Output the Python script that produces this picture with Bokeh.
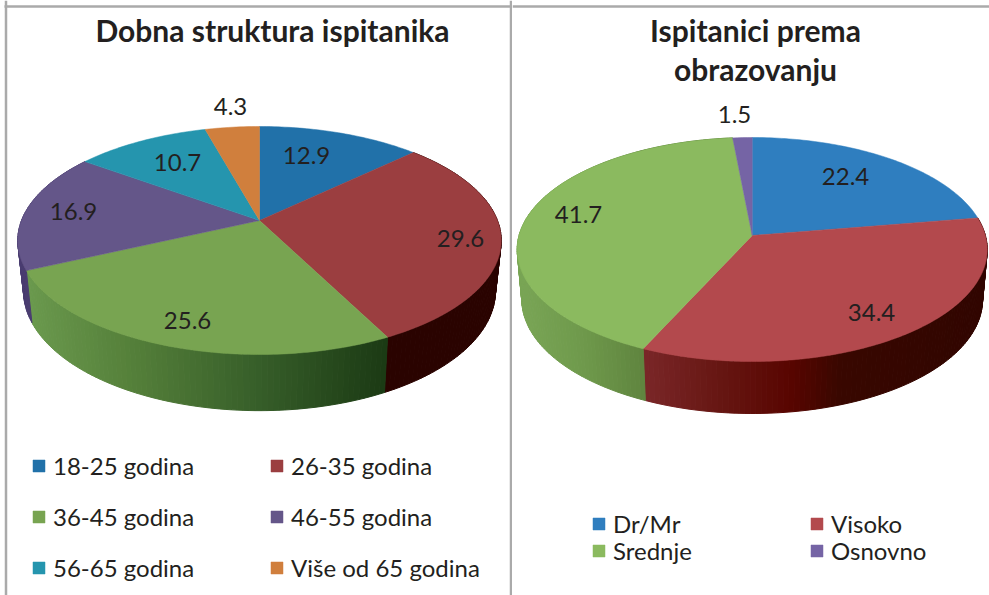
import numpy as np
from bokeh.plotting import figure
from bokeh.layouts import row
from bokeh.models import Range1d, Legend, LegendItem, Span, ColumnDataSource
from bokeh.core.properties import value
from bokeh.embed import file_html
from bokeh.resources import INLINE

# ---- data ----
age_title = ["Dobna struktura ispitanika"]
age_labels = ["18-25 godina", "26-35 godina", "36-45 godina", "46-55 godina", "56-65 godina", "Više od 65 godina"]
age_values = [12.9, 29.6, 25.6, 16.9, 10.7, 4.3]
edu_title = ["Ispitanici prema", "obrazovanju"]
edu_labels = ["Dr/Mr", "Visoko", "Srednje", "Osnovno"]
edu_values = [22.4, 34.4, 41.7, 1.5]

# ---- style ----
age_colors = ["#2171a9", "#9b3e40", "#78a451", "#645689", "#2595ae", "#d07f3d"]
edu_colors = ["#2f7ebf", "#b3494d", "#8bba5f", "#7564a5"]
# wall shading: (x pixel, colour) stops, per slice
age_wall = {1: [(380, "#2a0300"), (500, "#2a0300")],
            2: [(25, "#6b9a4e"), (130, "#55803a"), (250, "#38602a"), (385, "#1b3a14")],
            3: [(15, "#4a3d70"), (40, "#4a3d70")]}
edu_wall = {1: [(640, "#7b2729"), (720, "#661612"), (790, "#580500"), (840, "#380700"), (990, "#300500")],
            2: [(515, "#7aa656"), (580, "#6f9a4c"), (645, "#5f843e")]}
age_geom = dict(cx=259, cy=220, R=238, k=0.1754, h=110.5, xs=0.976, cyl=269.6, hl=115.9)
edu_geom = dict(cx=751.7, cy=235, R=233.2, k=0.125, h=110.25, xs=0.98, cyl=285, hl=112)
age_label_xy = [(306, 155), (460, 238), (187, 320), (73, 211), (177, 162), (230, 106)]
edu_label_xy = [(845, 176), (871, 312), (578, 214), (734, 114)]
FONT = "Lato"
INK = "#231f20"
BORDER = "#aaaaaa"
DIVIDE = 512
TOP_RULE = 6


def hex2rgb(c):
    return np.array([int(c[i:i + 2], 16) for i in (1, 3, 5)], float)


def shade(stops, x):
    xs = [s[0] for s in stops]
    rgb = [hex2rgb(s[1]) for s in stops]
    v = [np.interp(x, xs, [c[i] for c in rgb]) for i in range(3)]
    return "#%02x%02x%02x" % tuple(int(round(a)) for a in v)


def top_pt(g, th):
    u, v = np.sin(th), np.cos(th)
    s = 1 / (1 + g["k"] * v)
    return g["cx"] + g["R"] * u * s, g["cy"] - g["h"] * v * s


def low_pt(g, th):
    u, v = np.sin(th), np.cos(th)
    s = 1 / (1 + g["k"] * v)
    return g["cx"] + g["xs"] * g["R"] * u * s, g["cyl"] - g["hl"] * v * s


def draw_pie(p, vals, names, colors, wall, g, label_xy, titles, title_xy, fs_title, legends):
    edges = np.cumsum([0] + vals) / sum(vals) * 2 * np.pi
    # walls
    for i, stops in wall.items():
        a0, a1 = edges[i], edges[i + 1]
        n = max(2, int(np.degrees(a1 - a0) / 1.2))
        th = np.linspace(a0, a1, n + 1)
        xs, ys, cols = [], [], []
        for t0, t1 in zip(th[:-1], th[1:]):
            x0, y0 = top_pt(g, t0); x1, y1 = top_pt(g, t1)
            x2, y2 = low_pt(g, t1); x3, y3 = low_pt(g, t0)
            xs.append([x0, x1, x2, x3]); ys.append([y0, y1, y2, y3])
            cols.append(shade(stops, (x0 + x1 + x2 + x3) / 4))
        p.patches(xs="x", ys="y", fill_color="c", line_color="c", line_width=1,
                  source=ColumnDataSource(dict(x=xs, y=ys, c=cols)))
    # top face
    items = []
    for i, (a0, a1) in enumerate(zip(edges[:-1], edges[1:])):
        th = np.linspace(a0, a1, max(3, int(np.degrees(a1 - a0))))
        px, py = top_pt(g, th)
        r = p.patch(np.r_[g["cx"], px], np.r_[g["cy"], py], fill_color=colors[i], line_color=colors[i], line_width=0.5)
        items.append(LegendItem(label=names[i], renderers=[r]))
    # value labels
    p.text(x=[q[0] for q in label_xy], y=[q[1] for q in label_xy], text=[f"{v:.1f}" for v in vals],
           text_font=value(FONT), text_font_size="24px", text_color=INK,
           text_align="center", text_baseline="middle")
    # title
    p.text(x=[q[0] for q in title_xy], y=[q[1] for q in title_xy], text=titles,
           text_font=value(FONT), text_font_size=fs_title, text_font_style="bold", text_color=INK,
           text_align="center", text_baseline="middle")
    for a, b, kw in legends:
        leg = Legend(items=items[a:b], ncols=2, orientation="horizontal", border_line_color=None, background_fill_alpha=0,
                     glyph_width=15, glyph_height=15, label_text_font=FONT, label_text_font_size="24px",
                     label_text_color=INK, margin=0, padding=0, **kw)
        p.add_layout(leg, "center")


def make(width, x0):
    p = figure(width=width, height=595, output_backend="svg", toolbar_location=None,
               x_range=Range1d(x0, x0 + width), y_range=Range1d(595, 0),
               min_border=0, min_border_left=0, min_border_right=0, min_border_top=0, min_border_bottom=0,
               outline_line_color=None, background_fill_color="white")
    p.axis.visible = False
    p.grid.visible = False
    return p


p1 = make(DIVIDE, 0)
p2 = make(989 - DIVIDE, DIVIDE)
p1.line(x=[4, DIVIDE], y=[TOP_RULE, TOP_RULE], line_color=BORDER, line_width=2.5)
p2.line(x=[DIVIDE, 989], y=[TOP_RULE, TOP_RULE], line_color=BORDER, line_width=2.5)
p1.add_layout(Span(location=5.5, dimension="height", line_color=BORDER, line_width=2.5))
p1.add_layout(Span(location=510.5, dimension="height", line_color=BORDER, line_width=2.5))
p1.renderers[0].level = "underlay"

draw_pie(p1, age_values, age_labels, age_colors, age_wall, age_geom, age_label_xy, age_title, [(272, 29)], "30px",
         [(0, 6, dict(location=(31, 595 - 582), spacing=22, label_standoff=7, label_width=194, label_height=28))])
draw_pie(p2, edu_values, edu_labels, edu_colors, edu_wall, edu_geom, edu_label_xy, edu_title, [(755, 29), (755, 68)], "30px",
         [(0, 2, dict(location=(591 - DIVIDE, 595 - 538), spacing=0, label_standoff=7, label_width=196, label_height=28)),
          (2, 4, dict(location=(591 - DIVIDE, 595 - 565), spacing=0, label_standoff=7, label_width=196, label_height=28))])

page = row(p1, p2, spacing=0)
open("out.html", "w").write(file_html(page, INLINE))
